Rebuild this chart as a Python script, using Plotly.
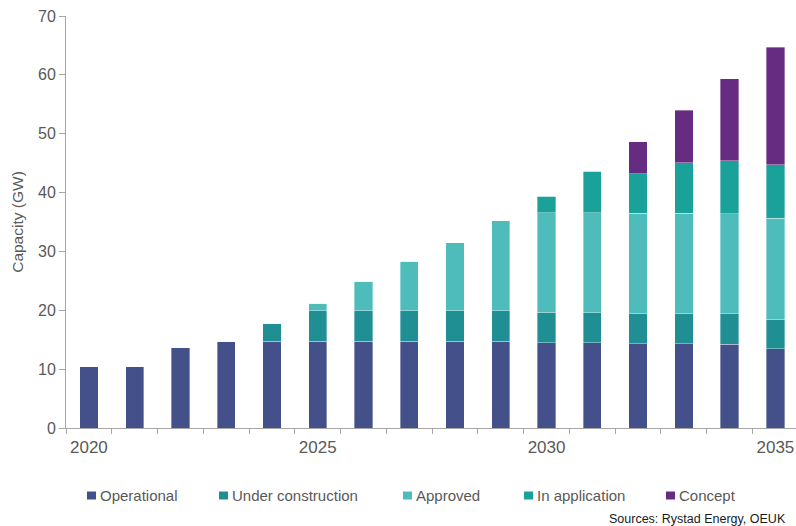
import plotly.graph_objects as go

years = [str(y) for y in range(2020, 2036)]
tick_labels = ["2020", "", "", "", "", "2025", "", "", "", "", "2030", "", "", "", "", "2035"]

operational = [10.4, 10.4, 13.6, 14.7, 14.7, 14.7, 14.7, 14.7, 14.7, 14.7, 14.5, 14.5, 14.3, 14.3, 14.2, 13.5]
under_construction = [0, 0, 0, 0, 3.0, 5.2, 5.2, 5.2, 5.2, 5.2, 5.2, 5.1, 5.2, 5.2, 5.2, 5.0]
approved = [0, 0, 0, 0, 0, 1.3, 5.0, 8.4, 11.6, 15.3, 16.9, 17.0, 17.0, 17.0, 17.0, 17.1]
in_application = [0, 0, 0, 0, 0, 0, 0, 0, 0, 0, 2.8, 7.0, 6.7, 8.6, 9.0, 9.1]
concept = [0, 0, 0, 0, 0, 0, 0, 0, 0, 0, 0, 0, 5.4, 8.9, 13.9, 20.0]

series = [
    ("Operational", operational, "#44508A"),
    ("Under construction", under_construction, "#1F8F94"),
    ("Approved", approved, "#4FBCBC"),
    ("In application", in_application, "#1AA19A"),
    ("Concept", concept, "#662C82"),
]

FONT = "Liberation Sans, Arial, sans-serif"
GREY = "#595959"
W, H = 796, 526
L, R, T, B = 66, 0, 16, 98
PW, PH = W - L - R, H - T - B

fig = go.Figure()
for name, vals, color in series:
    fig.add_trace(go.Bar(
        x=years, y=vals, name=name, showlegend=False,
        marker=dict(color=color, line=dict(color="rgba(255,255,255,0.45)", width=0.8)),
        width=0.4,
    ))

# Key row below the chart: small coloured square followed by the series name
key_left_px = [87, 219, 403, 524, 666]
key_mid_px = 495.5
for (name, _, color), x0 in zip(series, key_left_px):
    fx0 = (x0 - L) / PW
    fx1 = (x0 + 9 - L) / PW
    fy0 = (T + PH - (key_mid_px + 4)) / PH
    fy1 = (T + PH - (key_mid_px - 4)) / PH
    fig.add_shape(type="rect", xref="paper", yref="paper",
                  x0=fx0, x1=fx1, y0=fy0, y1=fy1,
                  fillcolor=color, line=dict(width=0))
    fig.add_annotation(text=name, xref="paper", yref="paper",
                       x=(x0 + 11 - L) / PW, y=(T + PH - key_mid_px) / PH,
                       xanchor="left", yanchor="middle", showarrow=False,
                       font=dict(size=15, color=GREY, family=FONT))

fig.update_layout(
    width=W, height=H,
    barmode="stack",
    plot_bgcolor="white", paper_bgcolor="white",
    margin=dict(l=L, r=R, t=T, b=B, autoexpand=False),
    font=dict(family=FONT, size=15, color=GREY),
    showlegend=False,
)
fig.update_xaxes(
    type="category", range=[-0.5, 15.45],
    tickvals=years, ticktext=tick_labels, tickson="boundaries",
    ticks="outside", ticklen=5, tickcolor="#A6A6A6",
    showline=True, linecolor="#A6A6A6", linewidth=1,
    tickfont=dict(size=17, color=GREY), showgrid=False,
    tickangle=0, automargin=False, ticklabelstandoff=4,
)
fig.update_yaxes(
    range=[0, 70], dtick=10, tick0=0,
    ticks="outside", ticklen=6, tickcolor="#A6A6A6",
    showline=True, linecolor="#A6A6A6", linewidth=1,
    showgrid=False, zeroline=False, automargin=False,
    tickfont=dict(size=16, color=GREY),
    title=dict(text="Capacity (GW)", font=dict(size=15.5, color=GREY), standoff=10),
)
fig.add_annotation(
    text="Sources: Rystad Energy, OEUK", xref="paper", yref="paper",
    x=(788 - L) / PW, y=(T + PH - 519) / PH, xanchor="right", yanchor="middle",
    showarrow=False, font=dict(size=12.5, color="#1a1a1a", family=FONT),
)

fig.write_html("out.html")
